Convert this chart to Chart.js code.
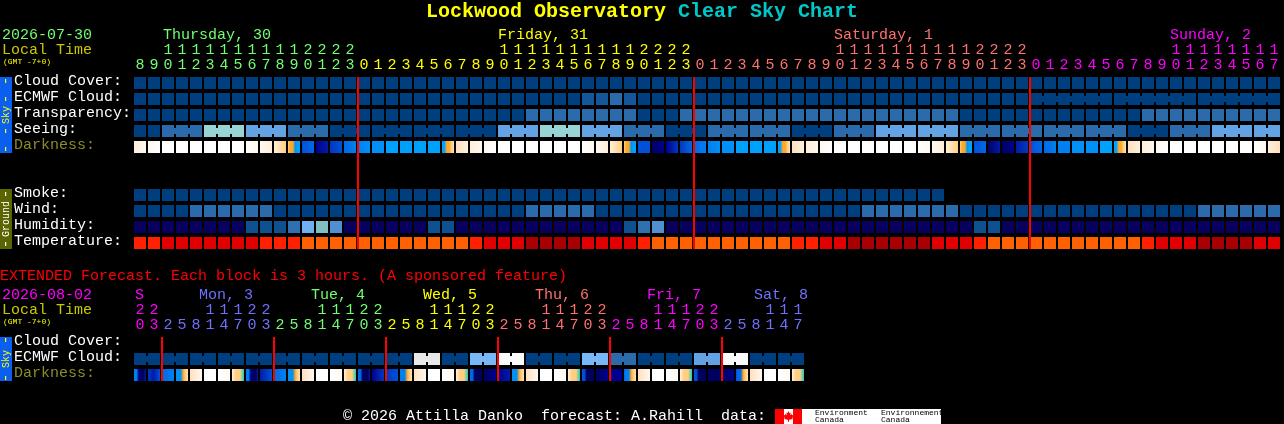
<!DOCTYPE html>
<html>
<head>
<meta charset="utf-8">
<title>Lockwood Observatory Clear Sky Chart</title>
<script src="https://cdn.jsdelivr.net/npm/chart.js@4"></script>
<style>
    html, body { margin: 0; padding: 0; background: #000; overflow: hidden; }
    canvas { position: absolute; left: 0; }
    #mainChart { top: 0; }
    #extChart { top: 260px; }
</style>
</head>
<body>
<canvas id="mainChart" width="1284" height="260"></canvas>
<canvas id="extChart" width="1284" height="164"></canvas>
<script>
// Hours along the top of each grid
const mainHours = [
    8, 9, 10, 11, 12, 13, 14, 15, 16, 17, 18, 19, 20, 21, 22, 23,
    0, 1, 2, 3, 4, 5, 6, 7, 8, 9, 10, 11, 12, 13, 14, 15, 16, 17, 18, 19, 20, 21, 22, 23,
    0, 1, 2, 3, 4, 5, 6, 7, 8, 9, 10, 11, 12, 13, 14, 15, 16, 17, 18, 19, 20, 21, 22, 23,
    0, 1, 2, 3, 4, 5, 6, 7, 8, 9, 10, 11, 12, 13, 14, 15, 16, 17
];
const extHours = [
    20, 23,
    2, 5, 8, 11, 14, 17, 20, 23,
    2, 5, 8, 11, 14, 17, 20, 23,
    2, 5, 8, 11, 14, 17, 20, 23,
    2, 5, 8, 11, 14, 17, 20, 23,
    2, 5, 8, 11, 14, 17, 20, 23,
    2, 5, 8, 11, 14, 17
];
const mainMidnights = [16, 40, 64];
const extMidnights = [2, 10, 18, 26, 34, 42];

const mainRowLabels = ['Cloud Cover:', 'ECMWF Cloud:', 'Transparency:', 'Seeing:', 'Darkness:', '', '', 'Smoke:', 'Wind:', 'Humidity:', 'Temperature:'];
const extRowLabels = ['Cloud Cover:', 'ECMWF Cloud:', 'Darkness:'];

// Forecast levels, one per column (index into the palettes below)
const cloudCover = [
    0, 0, 0, 0, 0, 0, 0, 0, 0, 0, 0, 0, 0, 0, 0, 0, 0, 0, 0, 0, 0, 0, 0, 0, 0, 0, 0, 0, 0, 0, 0, 0, 0, 0, 0, 0, 0, 0, 0, 0, 0,
    0, 0, 0, 0, 0, 0, 0, 0, 0, 0, 0, 0, 0, 0, 0, 0, 0, 0, 0, 0, 0, 0, 0, 0, 0, 0, 0, 0, 0, 0, 0, 0, 0, 0, 0, 0, 0, 0, 0, 0, 0
];
const ecmwfCloud = [
    0, 0, 0, 0, 0, 0, 0, 0, 0, 0, 0, 0, 0, 0, 0, 0, 0, 0, 0, 0, 0, 0, 0, 0, 0, 0, 0, 0, 0, 0, 0, 0, 1, 1, 2, 1, 0, 0, 0, 0, 0,
    0, 0, 0, 0, 0, 0, 0, 0, 0, 0, 0, 0, 0, 0, 0, 0, 0, 0, 0, 0, 0, 0, 0, 0, 0, 0, 0, 0, 0, 0, 0, 0, 0, 0, 0, 0, 0, 0, 0, 0, 0
];
const transparency = [
    0, 0, 0, 0, 0, 0, 0, 0, 0, 0, 0, 0, 0, 0, 0, 0, 0, 0, 0, 0, 0, 0, 0, 0, 0, 0, 0, 0, 2, 2, 2, 2, 2, 2, 2, 2, 0, 0, 0, 2, 2,
    2, 2, 2, 2, 2, 2, 2, 2, 2, 2, 2, 2, 2, 2, 2, 2, 2, 2, 0, 0, 0, 0, 0, 0, 0, 0, 0, 0, 0, 0, 0, 2, 2, 2, 2, 2, 2, 2, 2, 2, 2
];
const seeing = [
    0, 0, 2, 2, 2, 5, 5, 5, 3, 3, 3, 2, 2, 2, 0, 0, 0, 0, 0, 0, 0, 0, 0, 0, 0, 0, 3, 3, 3, 5, 5, 5, 3, 3, 3, 2, 2, 2, 0, 0, 0,
    2, 2, 2, 2, 2, 2, 0, 0, 0, 2, 2, 2, 3, 3, 3, 3, 3, 3, 2, 2, 2, 2, 2, 2, 2, 2, 2, 2, 2, 2, 0, 0, 0, 2, 2, 2, 3, 3, 3, 3, 3
];
const smoke = [
    0, 0, 0, 0, 0, 0, 0, 0, 0, 0, 0, 0, 0, 0, 0, 0, 0, 0, 0, 0, 0, 0, 0, 0, 0, 0, 0, 0, 0,
    0, 0, 0, 0, 0, 0, 0, 0, 0, 0, 0, 0, 0, 0, 0, 0, 0, 0, 0, 0, 0, 0, 0, 0, 0, 0, 0, 0, 0
];
const wind = [
    0, 0, 0, 0, 2, 2, 2, 2, 2, 2, 0, 0, 0, 0, 0, 0, 0, 0, 0, 0, 0, 0, 0, 0, 0, 0, 0, 0, 2, 2, 2, 2, 2, 0, 0, 0, 0, 0, 0, 0, 0,
    0, 0, 0, 0, 0, 0, 0, 0, 0, 0, 0, 2, 2, 2, 2, 2, 2, 2, 0, 0, 0, 0, 0, 0, 0, 0, 0, 0, 0, 0, 0, 0, 0, 0, 0, 2, 2, 2, 2, 2, 2
];
const humidity = [
    0, 0, 0, 0, 0, 0, 0, 0, 1, 1, 1, 2, 4, 5, 3, 0, 0, 0, 0, 0, 0, 1, 1, 0, 0, 0, 0, 0, 0, 0, 0, 0, 0, 0, 0, 1, 2, 3, 0, 0, 0,
    0, 0, 0, 0, 0, 0, 0, 0, 0, 0, 0, 0, 0, 0, 0, 0, 0, 0, 0, 1, 1, 0, 0, 0, 0, 0, 0, 0, 0, 0, 0, 0, 0, 0, 0, 0, 0, 0, 0, 0, 0
];
const temperature = [
    2, 2, 1, 1, 1, 1, 1, 1, 1, 2, 2, 2, 3, 3, 3, 3, 3, 3, 3, 3, 3, 3, 3, 3, 2, 1, 1, 1, 0, 0, 0, 0, 1, 1, 1, 1, 2, 3, 3, 3, 3,
    3, 3, 3, 3, 3, 3, 2, 2, 1, 1, 0, 0, 0, 0, 0, 0, 1, 1, 1, 2, 3, 3, 3, 3, 3, 3, 3, 3, 3, 3, 3, 2, 1, 1, 1, 0, 0, 0, 0, 1, 1
];
// Sky colour across each cell, left to right (keys of darkColors)
const darkness = [
    'B A', 'A W', 'W', 'W', 'W', 'W', 'W', 'W', 'W A', 'A B', 'B D', 'D E E K L L',
    'H I', 'N F', 'G H', 'I J', 'J K', 'K', 'L', 'L', 'L', 'L', 'L L E E D C',
    'C B', 'B A', 'A W', 'W', 'W', 'W', 'W', 'W', 'W', 'W A', 'A B', 'B D', 'D E E K L L',
    'H', 'M N', 'N G', 'G I', 'I J', 'J K', 'K', 'L', 'L', 'L', 'L L E E D C',
    'C B', 'B A', 'A W', 'W', 'W', 'W', 'W', 'W', 'W', 'W A', 'A B', 'B D', 'D E E K L L',
    'H I', 'M F', 'M N', 'F G', 'H I', 'I J', 'J', 'K', 'K', 'L', 'L L E E D C',
    'C B', 'B A', 'A W', 'W', 'W', 'W', 'W', 'W', 'W', 'W A', 'B C'
];
const extEcmwf = [
    0, 0, 0, 0, 0, 0, 0, 0, 0, 0, 0, 0, 0, 0, 0, 0, 0, 0, 0, 0, 6, 6, 0, 0,
    4, 4, 7, 7, 0, 0, 0, 0, 4, 4, 2, 2, 0, 0, 0, 0, 3, 3, 7, 7, 0, 0, 0, 0
];
const extDarkness = [
    'J J N M M F', 'G F H', 'I J', 'K K K E D C', 'C A', 'W', 'W A', 'B D D T',
    'J J N M M F', 'F H', 'I J', 'K K K E D C', 'C A', 'W', 'W A', 'B D D T',
    'I I M M M F', 'N G', 'G H', 'J J J E D C', 'C A', 'W', 'W A', 'B D D T',
    'I I M M M M', 'M N', 'N F', 'K K K E D C', 'C A', 'W', 'W A', 'B D D T',
    'H H M M M M', 'M N', 'N', 'I J J E D C', 'C A', 'W', 'W A', 'B D D T',
    'H H M M M M', 'M', 'M N', 'H I I E D C', 'C A', 'W', 'W A', 'B D D T'
];

// Palettes
const skyColors = ['#003f7f', '#15569a', '#2c6bab', '#63a3e3', '#78b8f8', '#99d4d4', '#e8e8e8', '#fbfbfb'];
const humidityColors = ['#08005f', '#0f5090', '#3070b0', '#5090d0', '#70b0f0', '#80c0c0'];
const temperatureColors = ['#a80000', '#e00000', '#ff2000', '#ff6000'];
const darkColors = {
    W: '#ffffff', A: '#fff8f0', B: '#ffefdc', C: '#ffe0bc', D: '#ffcf80', E: '#ffa826', T: '#20c8c0',
    L: '#00a0ff', K: '#0090f8', J: '#0080f0', I: '#0068e8', H: '#0050d8', G: '#0038c0', F: '#001ca8', N: '#000090', M: '#000060'
};

const MONO = "'Liberation Mono', monospace";
const GRID_COLS = 82;        // both grids share the same column pitch
const CELL_OFFSET = 3 / 7;   // column n sits at the middle of its 12px cell
const HALF_ROW = 0.375;      // 12px cell in a 16px row

// Colour of a column's hour label, from the day it falls in
const mainDayColors = ['#70ff70', '#ffff00', '#ff7070', '#ff00ff'];
const extDayColors = ['#ff00ff', '#7070ff', '#70ff70', '#ffff00', '#ff7070', '#ff00ff', '#7070ff'];

function dayColor(col, midnights, colors) {
    let day = 0;
    midnights.forEach(m => { if (col >= m) day++; });
    return colors[day];
}

// One row of cells as a bar dataset
function cellRow(name, values, row, color) {
    return {
        label: name,
        data: values.map((v, i) => ({ x: i, y: [row - HALF_ROW, row + HALF_ROW] })),
        backgroundColor: color,
        barThickness: 12
    };
}

function levelRow(name, values, row, palette) {
    return cellRow(name, values, row, values.map(v => palette[v]));
}

// Gradient from the stop list of a darkness cell
function gradientRow(name, values, row) {
    return cellRow(name, values, row, ctx => {
        const stops = values[ctx.dataIndex].split(' ');
        const xPix = ctx.chart.scales.x.getPixelForValue(ctx.dataIndex);
        // the scale has no size yet the first time options are resolved
        if (stops.length === 1 || !isFinite(xPix)) return darkColors[stops[0]];
        const g = ctx.chart.ctx.createLinearGradient(xPix - 6, 0, xPix + 6, 0);
        stops.forEach((s, i) => g.addColorStop(i / (stops.length - 1), darkColors[s]));
        return g;
    });
}

// Narrow bridges joining cells of one forecast block
function linkRow(name, values, row, firstCol, blockSize) {
    const data = [];
    const colors = [];
    values.forEach((v, i) => {
        if (i >= values.length - 1) return;
        if (i + 1 > firstCol && (i + 1 - firstCol) % blockSize !== 0) {
            data.push({ x: i + 0.5, y: [row - 0.1875, row + 0.1875] });
            colors.push(skyColors[v]);
        }
    });
    return { label: name + ' links', data: data, backgroundColor: colors, barThickness: 2 };
}

function midnightLines(cols, lastRow) {
    return {
        label: 'Midnight',
        data: cols.map(c => ({ x: c - CELL_OFFSET, y: [-HALF_ROW, lastRow + HALF_ROW] })),
        backgroundColor: '#ff0000',
        barThickness: 2
    };
}

// Free text, side tabs and the data credit
function textAt(ctx, text, x, y, color, font, align) {
    ctx.font = font;
    ctx.fillStyle = color;
    ctx.textAlign = align || 'left';
    ctx.textBaseline = 'middle';
    ctx.fillText(text, x, y);
}

function sideTab(ctx, top, bottom, color, text, dashes, dashGap, textColor) {
    ctx.fillStyle = color;
    ctx.fillRect(0, top, 12, bottom - top);
    ctx.save();
    ctx.translate(6, (top + bottom) / 2);
    ctx.rotate(-Math.PI / 2);
    textAt(ctx, text, 0, 0, textColor, '10px ' + MONO, 'center');
    textAt(ctx, dashes, -dashGap, 0, textColor, '15px ' + MONO, 'center');
    textAt(ctx, dashes, dashGap, 0, textColor, '15px ' + MONO, 'center');
    ctx.restore();
}

function mapleLeaf(ctx, cx, top) {
    const pts = [[0, 0], [2, 3], [4, 2], [3, 6], [6, 4], [7, 6], [9, 6], [7, 10], [8, 11], [1, 12], [1, 15], [-1, 15], [-1, 12], [-8, 11], [-7, 10], [-9, 6], [-7, 6], [-6, 4], [-3, 6], [-4, 2], [-2, 3]];
    ctx.fillStyle = '#ff0000';
    ctx.beginPath();
    pts.forEach(p => ctx.lineTo(cx + p[0] * 0.55, top + p[1] * 0.72));
    ctx.closePath();
    ctx.fill();
}

const mainText = {
    id: 'mainText',
    afterDraw(chart) {
        const ctx = chart.ctx;
        ctx.save();
        textAt(ctx, 'Lockwood Observatory', 426, 12, '#ffff00', 'bold 20px ' + MONO);
        textAt(ctx, 'Clear Sky Chart', 678, 12, '#00c8c8', 'bold 20px ' + MONO);
        textAt(ctx, '2026-07-30', 2, 35, '#70ff70', '15px ' + MONO);
        textAt(ctx, 'Local Time', 2, 50, '#c8c800', '15px ' + MONO);
        textAt(ctx, '(GMT -7+0)', 3, 62, '#ffff00', '8px ' + MONO);
        textAt(ctx, 'Thursday, 30', 163, 35, '#70ff70', '15px ' + MONO);
        textAt(ctx, 'Friday, 31', 498, 35, '#ffff00', '15px ' + MONO);
        textAt(ctx, 'Saturday, 1', 834, 35, '#ff7070', '15px ' + MONO);
        textAt(ctx, 'Sunday, 2', 1170, 35, '#ff00ff', '15px ' + MONO);
        sideTab(ctx, 77, 153, '#0a5ff0', 'Sky', '- -', 25, '#ffff00');
        sideTab(ctx, 189, 249, '#5a6400', 'Ground', '-', 25, '#ffffff');
        ctx.restore();
    }
};

const extText = {
    id: 'extText',
    afterDraw(chart) {
        const ctx = chart.ctx;
        ctx.save();
        textAt(ctx, 'EXTENDED Forecast. Each block is 3 hours. (A sponsored feature)', 0, 16, '#ff0000', '15px ' + MONO);
        textAt(ctx, '2026-08-02', 2, 35, '#ff00ff', '15px ' + MONO);
        textAt(ctx, 'Local Time', 2, 50, '#c8c800', '15px ' + MONO);
        textAt(ctx, '(GMT -7+0)', 3, 62, '#ffff00', '8px ' + MONO);
        textAt(ctx, 'S', 135, 35, '#ff00ff', '15px ' + MONO);
        textAt(ctx, 'Mon, 3', 199, 35, '#7070ff', '15px ' + MONO);
        textAt(ctx, 'Tue, 4', 311, 35, '#70ff70', '15px ' + MONO);
        textAt(ctx, 'Wed, 5', 423, 35, '#ffff00', '15px ' + MONO);
        textAt(ctx, 'Thu, 6', 535, 35, '#ff7070', '15px ' + MONO);
        textAt(ctx, 'Fri, 7', 647, 35, '#ff00ff', '15px ' + MONO);
        textAt(ctx, 'Sat, 8', 754, 35, '#7070ff', '15px ' + MONO);
        sideTab(ctx, 77, 121, '#0a5ff0', 'Sky', '-', 19, '#ffff00');
        textAt(ctx, '\u00a9 2026 Attilla Danko  forecast: A.Rahill  data:', 343, 156, '#ffffff', '15px ' + MONO);
        // credit strip
        ctx.fillStyle = '#ffffff';
        ctx.fillRect(775, 149, 166, 15);
        ctx.fillStyle = '#ff0000';
        ctx.fillRect(775, 149, 9, 15);
        ctx.fillRect(793, 149, 9, 15);
        mapleLeaf(ctx, 788.5, 151);
        textAt(ctx, 'Environment', 815, 153, '#000000', '8px ' + MONO);
        textAt(ctx, 'Canada', 815, 160, '#000000', '8px ' + MONO);
        textAt(ctx, 'Environnement', 881, 153, '#000000', '8px ' + MONO);
        textAt(ctx, 'Canada', 881, 160, '#000000', '8px ' + MONO);
        ctx.restore();
    }
};

// Grid chart: columns across, rows down, hour labels on a top axis
function makeGrid(id, hours, midnights, colors, rowLabels, rowColor, datasets, bottomPad, plugin) {
    return new Chart(document.getElementById(id), {
        type: 'bar',
        data: { datasets: datasets },
        options: {
            responsive: false,
            animation: false,
            events: [],
            grouped: false,
            inflateAmount: 0,
            borderWidth: 0,
            layout: { autoPadding: false, padding: { left: 14, right: 2, top: 0, bottom: bottomPad } },
            plugins: { legend: { display: false }, title: { display: false }, tooltip: { enabled: false } },
            scales: {
                x: {
                    type: 'linear',
                    position: 'top',
                    offset: false,
                    min: -CELL_OFFSET,
                    max: GRID_COLS - CELL_OFFSET,
                    grid: { display: false },
                    border: { display: false },
                    afterBuildTicks: s => { s.ticks = hours.map((h, i) => ({ value: i })); },
                    afterFit: s => { s.height = 75; },
                    ticks: {
                        autoSkip: false,
                        maxRotation: 0,
                        padding: -6,
                        font: { family: MONO, size: 15, lineHeight: 1 },
                        color: ctx => dayColor(ctx.index, midnights, colors),
                        callback: (v, i) => [hours[i] >= 10 ? String(Math.floor(hours[i] / 10)) : '', String(hours[i] % 10)]
                    }
                },
                y: {
                    type: 'linear',
                    reverse: true,
                    min: -0.5,
                    max: rowLabels.length - 0.5,
                    grid: { display: false },
                    border: { display: false },
                    afterBuildTicks: s => { s.ticks = rowLabels.map((l, i) => ({ value: i })); },
                    afterFit: s => { s.width = 120; },
                    ticks: {
                        crossAlign: 'far',
                        autoSkip: false,
                        padding: 0,
                        labelOffset: -2,
                        font: { family: MONO, size: 15, lineHeight: 1 },
                        color: ctx => rowColor(ctx.index),
                        callback: (v, i) => rowLabels[i]
                    }
                }
            }
        },
        plugins: [plugin]
    });
}

makeGrid('mainChart', mainHours, mainMidnights, mainDayColors, mainRowLabels,
    i => i === 4 ? '#8c8c28' : '#ffffff',
    [
        midnightLines(mainMidnights, 10),
        levelRow('Cloud Cover', cloudCover, 0, skyColors),
        levelRow('ECMWF Cloud', ecmwfCloud, 1, skyColors),
        linkRow('ECMWF Cloud', ecmwfCloud, 1, 64, 6),
        levelRow('Transparency', transparency, 2, skyColors),
        levelRow('Seeing', seeing, 3, skyColors),
        linkRow('Seeing', seeing, 3, 2, 3),
        gradientRow('Darkness', darkness, 4),
        levelRow('Smoke', smoke, 7, skyColors),
        levelRow('Wind', wind, 8, skyColors),
        levelRow('Humidity', humidity, 9, humidityColors),
        levelRow('Temperature', temperature, 10, temperatureColors)
    ], 9, mainText);

makeGrid('extChart', extHours, extMidnights, extDayColors, extRowLabels,
    i => i === 2 ? '#8c8c28' : '#ffffff',
    [
        midnightLines(extMidnights, 2),
        levelRow('ECMWF Cloud', extEcmwf, 1, skyColors),
        linkRow('ECMWF Cloud', extEcmwf, 1, 0, 2),
        gradientRow('Darkness', extDarkness, 2)
    ], 41, extText);
</script>
</body>
</html>
